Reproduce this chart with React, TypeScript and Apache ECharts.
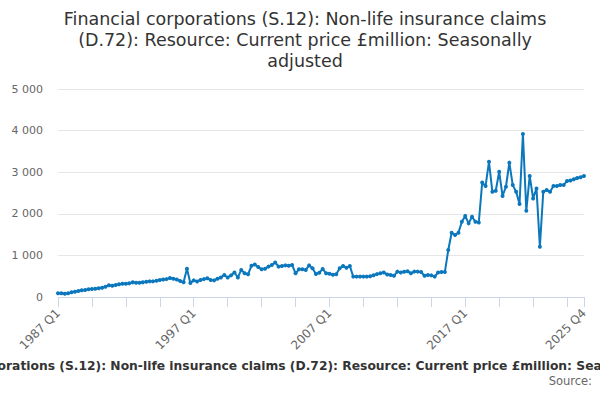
import React, { useEffect, useRef } from "react";
import * as echarts from "echarts";

const TITLE_LINES = [
  "Financial corporations (S.12): Non-life insurance claims",
  "(D.72): Resource: Current price £million: Seasonally",
  "adjusted",
];
const AXIS_NAME =
  "Financial corporations (S.12): Non-life insurance claims (D.72): Resource: Current price £million: Seasonally adjusted";
const SOURCE_TEXT = "Source:";

const START_YEAR = 1987;
const END_YEAR = 2025;
const QUARTERS = ["Q1", "Q2", "Q3", "Q4"];

const categories: string[] = [];
for (let y = START_YEAR; y <= END_YEAR; y++) {
  for (const q of QUARTERS) categories.push(`${y} ${q}`);
}

// Quarterly values, £million
const values1987to1994 = [
  88, 88, 80, 88, 112, 128, 144, 160, 168, 184, 192, 200, 208, 224, 248, 280,
  272, 288, 304, 320, 320, 328, 352, 344, 344, 352, 368, 376, 376, 392, 408, 420,
];
const values1995to2001 = [
  430, 455, 440, 420, 385, 355, 680, 335, 400, 375, 410, 430, 450, 410, 400, 440,
  470, 530, 470, 520, 590, 470, 650, 570, 545, 750, 780, 720,
];
const values2002to2009 = [
  665, 680, 730, 770, 830, 730, 745, 760, 750, 770, 570, 665, 665, 650, 760, 690,
  555, 585, 673, 570, 560, 535, 545, 690, 745, 705, 745, 490, 490, 490, 490, 490,
];
const values2010to2017 = [
  500, 525, 550, 570, 590, 540, 530, 510, 610, 590, 605, 620, 570, 610, 610, 600,
  510, 530, 520, 490, 590, 600, 600, 1130, 1545, 1490, 1545, 1810, 1950, 1770, 1930, 1810,
];
const values2018to2025 = [
  1790, 2750, 2670, 3250, 2530, 2555, 3010, 2430, 2650, 3230, 2690, 2530, 2235, 3920, 2075, 2910,
  2370, 2610, 1210, 2530, 2570, 2530, 2670, 2670, 2690, 2690, 2790, 2800, 2830, 2860, 2880, 2910,
];

const seriesValues = [
  ...values1987to1994,
  ...values1995to2001,
  ...values2002to2009,
  ...values2010to2017,
  ...values2018to2025,
];

const Y_TICKS = [0, 1000, 2000, 3000, 4000, 5000];

const FONT = "DejaVu Sans";

export default function App() {
  const ref = useRef<HTMLDivElement>(null);

  useEffect(() => {
    if (!ref.current) return;
    document.body.style.margin = "0";
    const chart = echarts.init(ref.current, undefined, { renderer: "svg" });
    const last = categories.length - 1;
    chart.setOption({
      animation: false,
      backgroundColor: "#ffffff",
      textStyle: { fontFamily: FONT },
      title: {
        text: TITLE_LINES.join("\n"),
        left: 300,
        top: 3,
        textAlign: "center",
        textStyle: {
          fontFamily: FONT,
          fontSize: 17.5,
          fontWeight: "normal",
          color: "#333333",
          lineHeight: 21,
        },
      },
      grid: { left: 58, right: 16, top: 89, bottom: 103, containLabel: false },
      xAxis: {
        type: "category",
        data: categories,
        boundaryGap: false,
        axisLine: { lineStyle: { color: "#ccd6eb", width: 1 } },
        axisTick: {
          length: 10,
          lineStyle: { color: "#ccd6eb" },
          interval: (i: number) => i % 10 === 0 || i === last,
        },
        axisLabel: {
          rotate: 45,
          color: "#666666",
          fontSize: 12,
          fontFamily: FONT,
          margin: 14,
          interval: (i: number) => i % 40 === 0 || i === last,
        },
        splitLine: { show: false },
      },
      yAxis: {
        type: "value",
        min: Y_TICKS[0],
        max: Y_TICKS[Y_TICKS.length - 1],
        interval: 1000,
        axisLine: { show: false },
        axisTick: { show: false },
        axisLabel: {
          color: "#666666",
          fontSize: 11,
          fontFamily: FONT,
          margin: 15,
          formatter: (v: number) => String(v).replace(/\B(?=(\d{3})+(?!\d))/g, " "),
        },
        splitLine: { lineStyle: { color: "#e6e6e6", width: 1 } },
      },
      series: [
        {
          type: "line",
          data: seriesValues,
          showAllSymbol: true,
          symbol: "circle",
          symbolSize: 4,
          lineStyle: { color: "#0b77bd", width: 2 },
          itemStyle: { color: "#0b77bd" },
        },
      ],
      graphic: [
        {
          type: "text",
          x: 308,
          y: 366,
          style: {
            text: AXIS_NAME,
            fontFamily: FONT,
            fontSize: 12.3,
            fontWeight: "bold",
            fill: "#333333",
            textAlign: "center",
            textVerticalAlign: "middle",
          },
        },
        {
          type: "text",
          x: 592,
          y: 381,
          style: {
            text: SOURCE_TEXT,
            fontFamily: FONT,
            fontSize: 11.5,
            fill: "#666666",
            textAlign: "right",
            textVerticalAlign: "middle",
          },
        },
      ],
    });
    return () => chart.dispose();
  }, []);

  return (
    <div
      ref={ref}
      style={{ position: "absolute", left: 0, top: 0, width: 600, height: 400 }}
    />
  );
}
